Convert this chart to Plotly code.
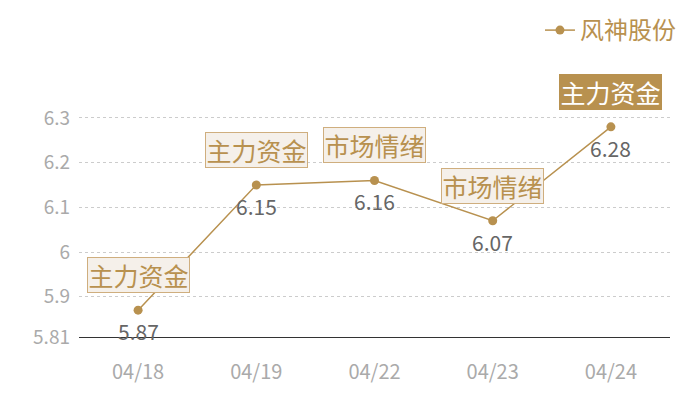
import plotly.graph_objects as go

dates = ["04/18", "04/19", "04/22", "04/23", "04/24"]
prices = [5.87, 6.15, 6.16, 6.07, 6.28]
tags = ["主力资金", "主力资金", "市场情绪", "市场情绪", "主力资金"]
y_ticks = [5.81, 5.9, 6.0, 6.1, 6.2, 6.3, 6.34]
y_tick_text = ["5.81", "5.9", "6", "6.1", "6.2", "6.3", ""]

gold = "#b8914f"
font_family = "Noto Sans CJK SC"

trace = go.Scatter(x=dates,
                   y=prices,
                   mode="lines+markers",
                   name="风神股份",
                   line=dict(color=gold, width=1.5),
                   marker=dict(color=gold, size=9),
                   cliponaxis=False)

notes = []
for i, (d, v, t) in enumerate(zip(dates, prices, tags)):
    last = i == len(dates) - 1
    #tag box above the point, the last one highlighted
    notes.append(dict(x=d, y=v, text=t,
                      showarrow=False,
                      yshift=35,
                      width=101, height=34,
                      font=dict(size=25, color="white" if last else gold, family=font_family),
                      bgcolor=gold if last else "#f5f0ea",
                      bordercolor=gold if last else "#cfae7e",
                      borderwidth=1,
                      borderpad=0))
    #value label under the point
    notes.append(dict(x=d, y=v, text=f"{v:.2f}",
                      showarrow=False,
                      yshift=-21,
                      font=dict(size=21, color="#666666", family=font_family)))

# page body adds an 8px margin, so the figure is a bit smaller than the window
layout = go.Layout(width=692, height=392,
                   margin=dict(l=71, r=30, t=92, b=63, autoexpand=False),
                   paper_bgcolor="white",
                   plot_bgcolor="white",
                   font=dict(family=font_family),
                   xaxis=dict(type="category",
                              range=[-0.5, 4.5],
                              automargin=False,
                              showgrid=False,
                              showline=True,
                              linecolor="#333333",
                              linewidth=1,
                              ticks="",
                              ticklabelstandoff=17,
                              tickfont=dict(size=20, color="#aaaaaa")),
                   yaxis=dict(range=[5.81, 6.34],
                              automargin=False,
                              tickvals=y_ticks,
                              ticktext=y_tick_text,
                              showgrid=True,
                              gridcolor="#cccccc",
                              griddash="dot",
                              gridwidth=1,
                              zeroline=False,
                              showline=False,
                              ticks="",
                              ticklabelstandoff=8,
                              tickfont=dict(size=19, color="#aaaaaa")),
                   annotations=notes,
                   showlegend=True,
                   legend=dict(xref="container", yref="container",
                               x=0.9725, y=1.0, xanchor="right", yanchor="top",
                               font=dict(size=24, color=gold, family=font_family),
                               itemwidth=30,
                               borderwidth=0,
                               bgcolor="rgba(0,0,0,0)"))

fig = go.Figure(data=[trace], layout=layout)
fig.write_html("out.html")
